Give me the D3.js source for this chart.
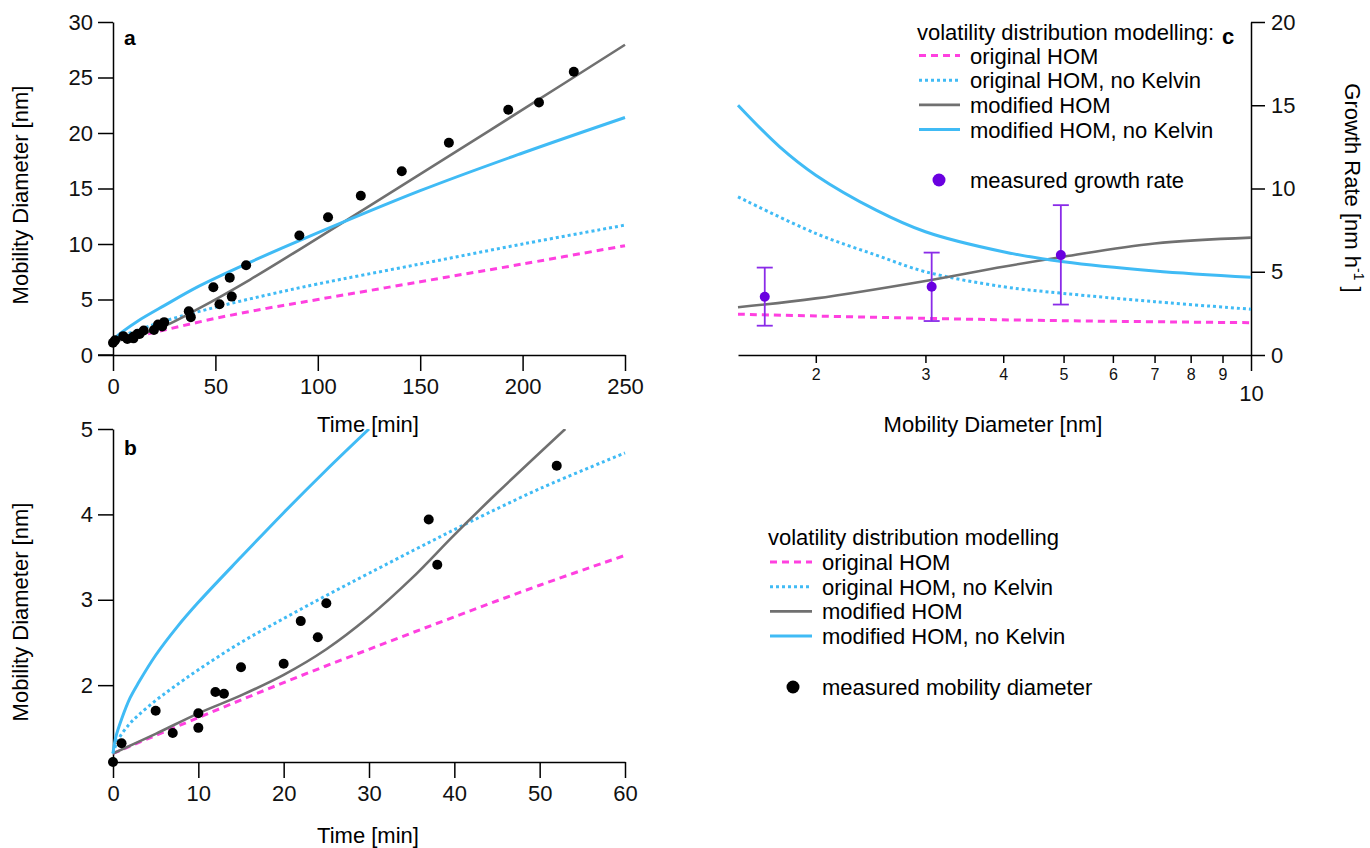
<!DOCTYPE html>
<html>
<head>
<meta charset="utf-8">
<script src="https://cdn.jsdelivr.net/npm/d3@7"></script>
<style>
  body { margin: 0; background: #fff; }
  svg { font-family: "Liberation Sans", Arial, Helvetica, sans-serif; }
</style>
</head>
<body>
<svg id="chart" width="1370" height="848"></svg>
<script>
// measured mobility diameter [time min, diameter nm]
const measured = [
  [0, 1.10], [1, 1.32], [5, 1.70], [7, 1.44], [10, 1.67], [10, 1.50], [12, 1.92],
  [13, 1.90], [15, 2.21], [20, 2.25], [22, 2.75], [24, 2.56], [25, 2.96], [37, 3.94],
  [38, 3.41], [49, 6.1], [52, 4.57], [57, 6.97], [58, 5.26], [65, 8.09], [91, 10.76],
  [105, 12.41], [121, 14.34], [141, 16.56], [164, 19.12], [193, 22.09], [208, 22.75],
  [225, 25.52]
];

// panel a model curves [time, diameter]
const aOriginal = [[0, 1.2], [25, 2.25], [50, 3.3], [75, 4.2], [100, 5.0], [150, 6.6], [200, 8.2], [250, 9.85]];
const aOriginalNoK = [[0, 1.2], [3, 1.6], [10, 2.1], [25, 3.05], [50, 4.3], [75, 5.4], [100, 6.4], [150, 8.2], [200, 10.0], [250, 11.7]];
const aModified = [[0, 1.2], [10, 1.65], [25, 2.6], [42, 4.2], [67, 6.8], [91, 9.5], [150, 16.3], [200, 22.1], [250, 27.95]];
const aModifiedNoK = [[0, 1.2], [2, 1.7], [5, 2.15], [12, 3.05], [25, 4.45], [42, 6.2], [65, 8.2], [91, 10.3], [150, 14.8], [200, 18.2], [250, 21.4]];

// panel b model curves [time, diameter]
const bOriginal = [[0, 1.2], [10, 1.62], [20, 2.03], [30, 2.42], [40, 2.8], [50, 3.17], [60, 3.52]];
const bOriginalNoK = [[0, 1.2], [0.6, 1.36], [1.8, 1.53], [3, 1.65], [5, 1.82], [7, 1.97], [10, 2.18], [15, 2.5], [20, 2.78], [25, 3.05], [30, 3.31], [37, 3.67], [42, 3.92], [50, 4.3], [60, 4.72]];
const bModified = [[0, 1.2], [5, 1.43], [10, 1.67], [15, 1.88], [20, 2.12], [25, 2.42], [30, 2.8], [35, 3.25], [40, 3.76], [45, 4.25], [53, 5.0]];
const bModifiedNoK = [[0, 1.2], [0.3, 1.38], [1, 1.6], [2, 1.85], [3, 2.03], [5, 2.35], [7.5, 2.68], [10, 2.97], [15, 3.5], [20, 4.02], [25, 4.52], [30, 5.0]];

// panel c growth rate curves [diameter nm, rate nm/h]
const cOriginal = [[1.5, 2.45], [3, 2.2], [5, 2.06], [10, 1.94]];
const cOriginalNoK = [[1.5, 9.5], [2, 7.3], [2.5, 6.0], [3, 5.0], [4, 4.1], [5, 3.7], [7, 3.2], [10, 2.75]];
const cModified = [[1.5, 2.87], [2, 3.4], [3, 4.45], [4, 5.3], [5, 5.9], [7, 6.7], [10, 7.05]];
const cModifiedNoK = [[1.5, 15.0], [1.75, 12.5], [2, 10.8], [2.5, 8.7], [3, 7.4], [4, 6.2], [5, 5.6], [7, 5.05], [10, 4.67]];
// measured growth rate [diameter, rate, low, high]
const growthRate = [[1.656, 3.5, 1.76, 5.25], [3.07, 4.1, 2.04, 6.15], [4.95, 6.0, 3.03, 9.0]];

const aTicksX = [0, 50, 100, 150, 200, 250];
const aTicksY = [0, 5, 10, 15, 20, 25, 30];
const bTicksX = [0, 10, 20, 30, 40, 50, 60];
const bTicksY = [2, 3, 4, 5];
const cMinorTicks = [2, 3, 4, 5, 6, 7, 8, 9];
const cTicksY = [0, 5, 10, 15, 20];

const legendLabels = ["original HOM", "original HOM, no Kelvin", "modified HOM", "modified HOM, no Kelvin"];

const MAGENTA = "#ff40e0", BLUE = "#40bbf5", GRAY = "#707070", PURPLE = "#6a00e0", PURPLE_BAR = "#8a2be8";
const styles = [
  { color: MAGENTA, dash: "7,5", width: 3 },
  { color: BLUE, dash: "3,3", width: 3 },
  { color: GRAY, dash: null, width: 2.6 },
  { color: BLUE, dash: null, width: 3 }
];
const FS = 22;

const svg = d3.select("#chart");

function drawCurves(g, sets, x, y) {
  const line = d3.line().x(d => x(d[0])).y(d => y(d[1])).curve(d3.curveCatmullRom.alpha(0.5));
  sets.forEach((s, i) => {
    g.append("path")
      .attr("d", line(s))
      .attr("fill", "none")
      .attr("stroke", styles[i].color)
      .attr("stroke-width", styles[i].width)
      .attr("stroke-dasharray", styles[i].dash);
  });
}

function styleAxis(g, fontSize) {
  g.selectAll("path.domain").attr("stroke", "#000").attr("stroke-width", 1.5);
  g.selectAll(".tick line").attr("stroke", "#000").attr("stroke-width", 1.5);
  g.selectAll(".tick text").attr("fill", "#111").style("font-size", fontSize + "px");
}

// ---------- panel a ----------
const ax = d3.scaleLinear().domain([0, 250]).range([113, 625]);
const ay = d3.scaleLinear().domain([0, 30]).range([355, 22]);

const gaX = svg.append("g").attr("transform", "translate(0,355)")
  .call(d3.axisBottom(ax).tickValues(aTicksX).tickSize(16).tickSizeOuter(0).tickPadding(7));
styleAxis(gaX, FS);
svg.append("line").attr("x1", 98).attr("x2", 113).attr("y1", 355).attr("y2", 355).attr("stroke", "#000").attr("stroke-width", 1.5);
const gaY = svg.append("g").attr("transform", "translate(113,0)")
  .call(d3.axisLeft(ay).tickValues(aTicksY).tickSize(15).tickSizeOuter(0).tickPadding(5));
styleAxis(gaY, FS);

const gA = svg.append("g");
drawCurves(gA, [aOriginal, aOriginalNoK, aModified, aModifiedNoK], ax, ay);
gA.selectAll("circle").data(measured).enter().append("circle")
  .attr("cx", d => ax(d[0])).attr("cy", d => ay(d[1])).attr("r", 5).attr("fill", "#000");

svg.append("text").attr("x", 124).attr("y", 45).attr("font-weight", "bold").style("font-size", "21px").text("a");
svg.append("text").attr("x", 368).attr("y", 432).attr("text-anchor", "middle").style("font-size", FS + "px").text("Time [min]");
svg.append("text").attr("transform", "translate(28,195) rotate(-90)").attr("text-anchor", "middle")
  .style("font-size", FS + "px").text("Mobility Diameter [nm]");

// ---------- panel b ----------
const bx = d3.scaleLinear().domain([0, 60]).range([113, 625]);
const by = d3.scaleLinear().domain([1.1, 5]).range([762, 429]);

svg.append("defs").append("clipPath").attr("id", "clipB")
  .append("rect").attr("x", 100).attr("y", 429).attr("width", 540).attr("height", 345);

const gbX = svg.append("g").attr("transform", "translate(0,762)")
  .call(d3.axisBottom(bx).tickValues(bTicksX).tickSize(16).tickSizeOuter(0).tickPadding(7));
styleAxis(gbX, FS);
const gbY = svg.append("g").attr("transform", "translate(113,0)")
  .call(d3.axisLeft(by).tickValues(bTicksY).tickFormat(d3.format("d")).tickSize(15).tickSizeOuter(0).tickPadding(5));
styleAxis(gbY, FS);

const gB = svg.append("g").attr("clip-path", "url(#clipB)");
drawCurves(gB, [bOriginal, bOriginalNoK, bModified, bModifiedNoK], bx, by);
gB.selectAll("circle").data(measured.filter(d => d[0] <= 60 && d[1] <= 5)).enter().append("circle")
  .attr("cx", d => bx(d[0])).attr("cy", d => by(d[1])).attr("r", 5).attr("fill", "#000");

svg.append("text").attr("x", 124).attr("y", 455).attr("font-weight", "bold").style("font-size", "21px").text("b");
svg.append("text").attr("x", 368).attr("y", 843).attr("text-anchor", "middle").style("font-size", FS + "px").text("Time [min]");
svg.append("text").attr("transform", "translate(28,612) rotate(-90)").attr("text-anchor", "middle")
  .style("font-size", FS + "px").text("Mobility Diameter [nm]");

// legend b
const legB = svg.append("g").attr("transform", "translate(768,537)");
legB.append("text").attr("x", 0).attr("y", 8).style("font-size", FS + "px").text("volatility distribution modelling");
legendLabels.forEach((lab, i) => {
  const yy = 25 + i * 24.7;
  legB.append("line").attr("x1", 2).attr("x2", 44).attr("y1", yy).attr("y2", yy)
    .attr("stroke", styles[i].color).attr("stroke-width", styles[i].width).attr("stroke-dasharray", styles[i].dash);
  legB.append("text").attr("x", 54).attr("y", yy + 8).style("font-size", FS + "px").text(lab);
});
legB.append("circle").attr("cx", 25).attr("cy", 150).attr("r", 6.5).attr("fill", "#000");
legB.append("text").attr("x", 54).attr("y", 158).style("font-size", FS + "px").text("measured mobility diameter");

// ---------- panel c ----------
const cx = d3.scaleLog().domain([1.5, 10]).range([738, 1251]);
const cy = d3.scaleLinear().domain([0, 20]).range([355, 22]);

const gcX = svg.append("g").attr("transform", "translate(0,355)")
  .call(d3.axisBottom(cx).tickValues(cMinorTicks).tickFormat(d3.format("d")).tickSize(8).tickSizeOuter(0).tickPadding(6));
styleAxis(gcX, 16);
const gcX10 = svg.append("g").attr("transform", "translate(0,355)")
  .call(d3.axisBottom(cx).tickValues([10]).tickFormat(d3.format("d")).tickSize(16).tickSizeOuter(0).tickPadding(14));
gcX10.select("path.domain").remove();
styleAxis(gcX10, FS);
const gcY = svg.append("g").attr("transform", "translate(1251,0)")
  .call(d3.axisRight(cy).tickValues(cTicksY).tickSize(14).tickSizeOuter(0).tickPadding(6));
styleAxis(gcY, FS);

const gC = svg.append("g");
drawCurves(gC, [cOriginal, cOriginalNoK, cModified, cModifiedNoK], cx, cy);
const gr = gC.selectAll("g.gr").data(growthRate).enter().append("g").attr("class", "gr");
gr.append("line").attr("x1", d => cx(d[0])).attr("x2", d => cx(d[0]))
  .attr("y1", d => cy(d[2])).attr("y2", d => cy(d[3])).attr("stroke", PURPLE_BAR).attr("stroke-width", 1.8);
[2, 3].forEach(k => {
  gr.append("line").attr("x1", d => cx(d[0]) - 8).attr("x2", d => cx(d[0]) + 8)
    .attr("y1", d => cy(d[k])).attr("y2", d => cy(d[k])).attr("stroke", PURPLE_BAR).attr("stroke-width", 1.8);
});
gr.append("circle").attr("cx", d => cx(d[0])).attr("cy", d => cy(d[1])).attr("r", 5).attr("fill", PURPLE);

svg.append("text").attr("x", 993).attr("y", 432).attr("text-anchor", "middle").style("font-size", FS + "px").text("Mobility Diameter [nm]");
const rateLabel = svg.append("text").attr("transform", "translate(1345,188) rotate(90)").attr("text-anchor", "middle")
  .style("font-size", FS + "px");
rateLabel.append("tspan").text("Growth Rate [nm h");
rateLabel.append("tspan").attr("dy", -9).style("font-size", "14px").text("-1");
rateLabel.append("tspan").attr("dy", 9).text(" ]");

// legend c
const legC = svg.append("g").attr("transform", "translate(917,32)");
legC.append("text").attr("x", 0).attr("y", 8).style("font-size", FS + "px").text("volatility distribution modelling:");
legC.append("text").attr("x", 305).attr("y", 12).attr("font-weight", "bold").style("font-size", "22px").text("c");
legendLabels.forEach((lab, i) => {
  const yy = 23.5 + i * 24.7;
  legC.append("line").attr("x1", 2).attr("x2", 43).attr("y1", yy).attr("y2", yy)
    .attr("stroke", styles[i].color).attr("stroke-width", styles[i].width).attr("stroke-dasharray", styles[i].dash);
  legC.append("text").attr("x", 53).attr("y", yy + 8).style("font-size", FS + "px").text(lab);
});
legC.append("circle").attr("cx", 22).attr("cy", 148).attr("r", 6.5).attr("fill", PURPLE);
legC.append("text").attr("x", 53).attr("y", 156).style("font-size", FS + "px").text("measured growth rate");
</script>
</body>
</html>
